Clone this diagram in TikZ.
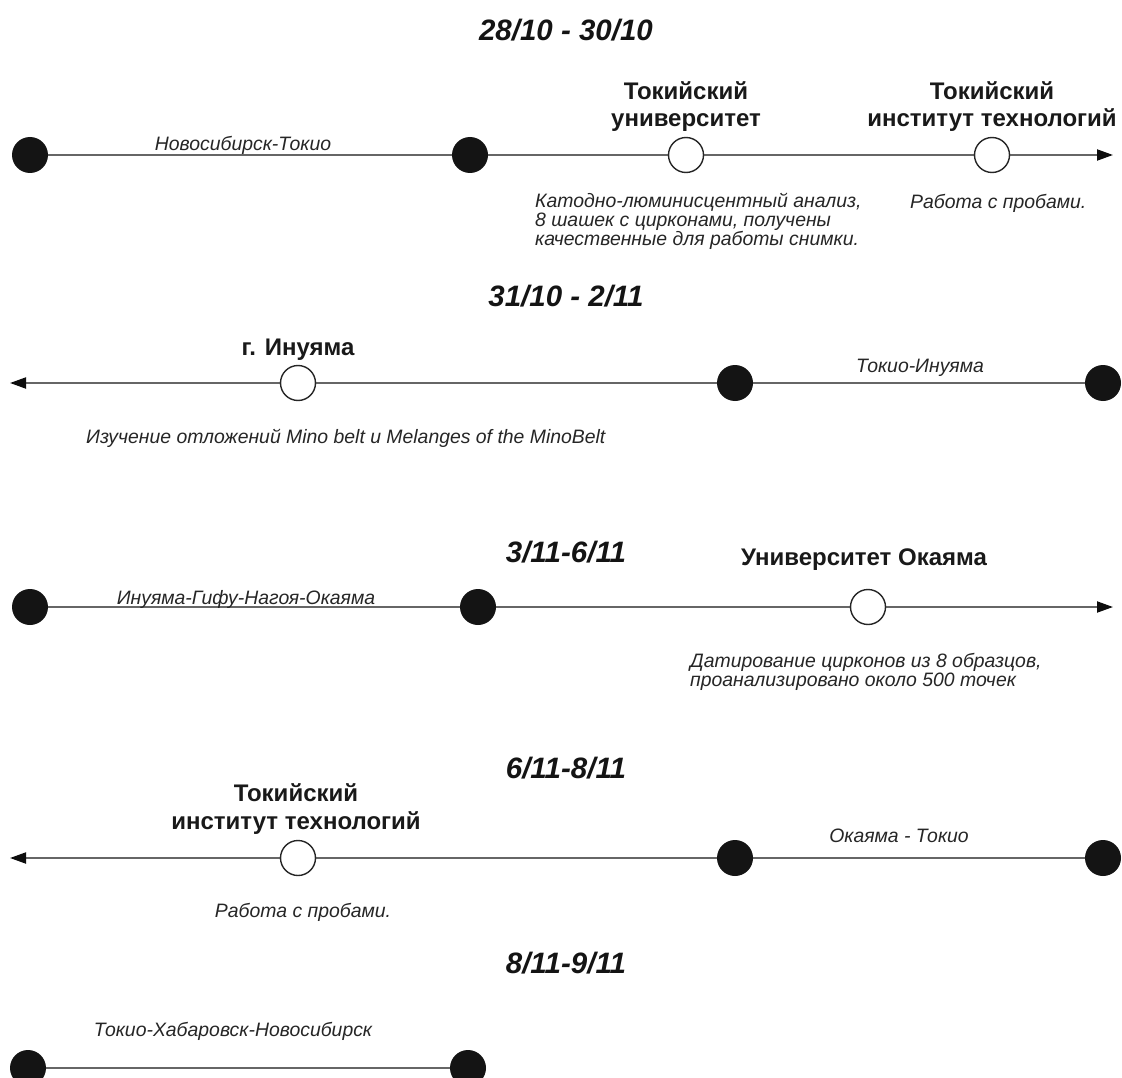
\documentclass[tikz,border=0pt]{standalone}
\usepackage{fontspec}
\setmainfont{Liberation Sans}
\usetikzlibrary{arrows.meta}
\begin{document}
\begin{tikzpicture}[x=1pt,y=-1pt,
  tl/.style={draw=black!60, line width=1.9pt},
  blk/.style={circle, fill=black!92, minimum size=36pt, inner sep=0pt},
  wht/.style={circle, draw=black!85, line width=1.4pt, fill=white, minimum size=35pt, inner sep=0pt},
  ttl/.style={font=\fontsize{29.5}{34}\selectfont\bfseries\itshape, inner sep=0pt, anchor=base, text=black!92},
  plc/.style={font=\fontsize{24}{27.5}\selectfont\bfseries, inner sep=0pt, align=center, anchor=base, text=black!90},
  rt/.style={font=\fontsize{19.4}{20}\selectfont\itshape, inner sep=0pt, anchor=base, text=black!85},
  dsc/.style={font=\fontsize{19.4}{19}\selectfont\itshape, inner sep=0pt, align=left, anchor=base west, text=black!85},
  arr/.style={-{Triangle[length=16pt,width=11pt,color=black!95]}}
]
\useasboundingbox[fill=white] (0,0) rectangle (1122,1078);

% ---------- Row 1 ----------
\node[ttl] (t1) at (566,41) {28/10 - 30/10};
\coordinate (e1) at (1113,155);
\draw[tl] (30,155) -- (470,155);
\draw[tl,arr] (470,155) -- (e1);
\node[blk] (a1) at (30,155) {};
\node[blk] (a2) at (470,155) {};
\node[wht] (a3) at (686,155) {};
\node[wht] (a4) at (992,155) {};
\node[rt] (r1) at (243,151) {Новосибирск-Токио};
\node[plc] (p1) at (686,127) {Токийский\\университет};
\node[plc] (p2) at (992,127) {Токийский\\институт технологий};
\node[dsc] (d1) at (535,246) {Катодно-люминисцентный анализ,\\8 шашек с цирконами, получены\\качественные для работы снимки.};
\node[dsc] (d2) at (910,209) {Работа с пробами.};

% ---------- Row 2 ----------
\node[ttl] (t2) at (566,306) {31/10 - 2/11};
\coordinate (e2) at (10,383);
\draw[tl] (1103,383) -- (298,383);
\draw[tl,arr] (298,383) -- (e2);
\node[wht] (b1) at (298,383) {};
\node[blk] (b2) at (735,383) {};
\node[blk] (b3) at (1103,383) {};
\node[plc] (p3) at (298,355) {г. Инуяма};
\node[rt] (r2) at (920,372) {Токио-Инуяма};
\node[dsc] (d3) at (86,443) {Изучение отложений Mino belt и Melanges of the MinoBelt};

% ---------- Row 3 ----------
\node[ttl] (t3) at (566,562) {3/11-6/11};
\coordinate (e3) at (1113,607);
\draw[tl] (30,607) -- (868,607);
\draw[tl,arr] (868,607) -- (e3);
\node[blk] (c1) at (30,607) {};
\node[blk] (c2) at (478,607) {};
\node[wht] (c3) at (868,607) {};
\node[rt] (r3) at (246,604) {Инуяма-Гифу-Нагоя-Окаяма};
\node[plc] (p4) at (864,565) {Университет Окаяма};
\node[dsc] (d4) at (690,686) {Датирование цирконов из 8 образцов,\\проанализировано около 500 точек};

% ---------- Row 4 ----------
\node[ttl] (t4) at (566,778) {6/11-8/11};
\coordinate (e4) at (10,858);
\draw[tl] (1103,858) -- (298,858);
\draw[tl,arr] (298,858) -- (e4);
\node[wht] (f1) at (298,858) {};
\node[blk] (f2) at (735,858) {};
\node[blk] (f3) at (1103,858) {};
\node[plc] (p5) at (296,829) {Токийский\\институт технологий};
\node[rt] (r4) at (899,842) {Окаяма - Токио};
\node[dsc,anchor=base] (d5) at (303,917) {Работа с пробами.};

% ---------- Row 5 ----------
\node[ttl] (t5) at (566,973) {8/11-9/11};
\draw[tl] (28,1068) -- (468,1068);
\node[blk] (g1) at (28,1068) {};
\node[blk] (g2) at (468,1068) {};
\node[rt] (r5) at (233,1036) {Токио-Хабаровск-Новосибирск};
\end{tikzpicture}
\end{document}
